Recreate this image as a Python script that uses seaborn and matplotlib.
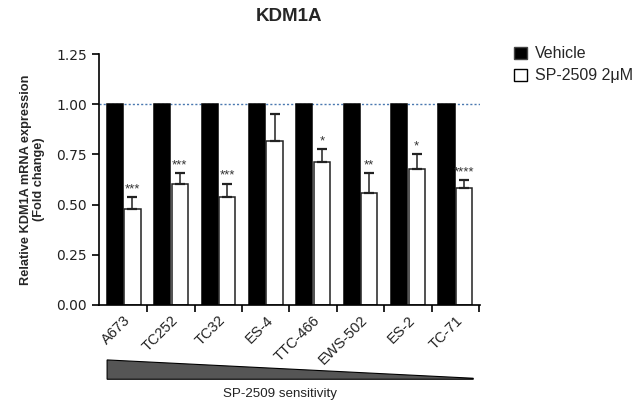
import matplotlib
matplotlib.use("Agg")
import matplotlib.pyplot as plt
import matplotlib.transforms as mtransforms
from matplotlib.patches import Patch
import seaborn as sns
import pandas as pd
import numpy as np

cell_lines = ["A673", "TC252", "TC32", "ES-4", "TTC-466", "EWS-502", "ES-2", "TC-71"]
vehicle = [1.0, 1.0, 1.0, 1.0, 1.0, 1.0, 1.0, 1.0]
sp2509 = [0.48, 0.605, 0.537, 0.818, 0.711, 0.56, 0.676, 0.585]
sp2509_err = [0.056, 0.05, 0.068, 0.135, 0.066, 0.095, 0.078, 0.037]
stars = ["***", "***", "***", "", "*", "**", "*", "****"]
groups = ["Vehicle", "SP-2509 2\u03bcM"]

sns.set_theme(style="ticks")
plt.rcParams["font.family"] = ["Liberation Sans", "DejaVu Sans"]

df = pd.DataFrame({
    "line": cell_lines * 2,
    "treat": [groups[0]] * len(cell_lines) + [groups[1]] * len(cell_lines),
    "value": vehicle + sp2509,
})

fig = plt.figure(figsize=(6.39, 4.08), dpi=100)
ax = fig.add_axes([0.155, 0.2525, 0.596, 0.615])

ax.axhline(1.0, color="#4a78b0", ls=(0, (1.5, 1.5)), lw=1.0, zorder=0)

sns.barplot(data=df, x="line", y="value", hue="treat", order=cell_lines,
            hue_order=groups, palette=["black", "white"], width=0.74, gap=0.08,
            errorbar=None, edgecolor="#222222", linewidth=1.1, ax=ax,
            legend=False, zorder=2)
for p in ax.containers[0]:
    p.set_edgecolor("black")

xs = [p.get_x() + p.get_width() / 2 for p in ax.containers[1]]
ax.errorbar(xs, sp2509, yerr=[np.zeros(len(sp2509)), sp2509_err], fmt="none",
            ecolor="#222222", elinewidth=1.1, capsize=3.5, capthick=1.6, zorder=3)
for x, v, e, s in zip(xs, sp2509, sp2509_err, stars):
    if s:
        ax.text(x, v + e + 0.008, s, ha="center", va="bottom", fontsize=9.5,
                color="#333333")

ax.set_ylim(0, 1.25)
ax.set_yticks([0, 0.25, 0.5, 0.75, 1.0, 1.25])
ax.set_yticklabels(["0.00", "0.25", "0.50", "0.75", "1.00", "1.25"], fontsize=10,
                   color="#222222", family="DejaVu Sans")
ax.set_xlim(-0.52, 7.52)
ax.set_xticks(np.arange(len(cell_lines)))
ax.set_xticklabels(cell_lines, rotation=45, ha="right", rotation_mode="anchor",
                   fontsize=10.5, color="#222222")
ax.tick_params(axis="x", which="major", length=0, pad=6)
ax.set_xticks(np.arange(len(cell_lines)) + 0.5, minor=True)
ax.tick_params(axis="x", which="minor", length=5, width=1.2, color="black")
ax.tick_params(axis="y", length=5, width=1.2, color="black")
for sp in ["top", "right"]:
    ax.spines[sp].set_visible(False)
for sp in ["left", "bottom"]:
    ax.spines[sp].set_color("black")
    ax.spines[sp].set_linewidth(1.2)

ax.set_xlabel("")
ax.set_ylabel("Relative KDM1A mRNA expression\n(Fold change)", fontsize=9.2,
              fontweight="bold", labelpad=8, linespacing=1.1)
ax.set_title("KDM1A", fontsize=13.5, fontweight="bold", pad=24)

handles = [Patch(facecolor="black", edgecolor="#444444", linewidth=1.0),
           Patch(facecolor="white", edgecolor="black", linewidth=1.0)]
fig.legend(handles, groups, loc="upper left", bbox_to_anchor=(0.782, 0.922),
           frameon=False, fontsize=11.5, handlelength=0.8, handleheight=0.8,
           handletextpad=0.5, labelspacing=0.45)

trans = mtransforms.blended_transform_factory(ax.transData, ax.transAxes)
ax.fill([-0.35, 7.38, 7.38, -0.35], [-0.219, -0.292, -0.296, -0.296],
        facecolor="#555555", edgecolor="black", linewidth=0.8,
        transform=trans, clip_on=False)
ax.text(3.3, -0.33, "SP-2509 sensitivity", transform=trans, ha="center",
        va="top", fontsize=9.6, color="#222222")

fig.savefig("out.png", dpi=100)
